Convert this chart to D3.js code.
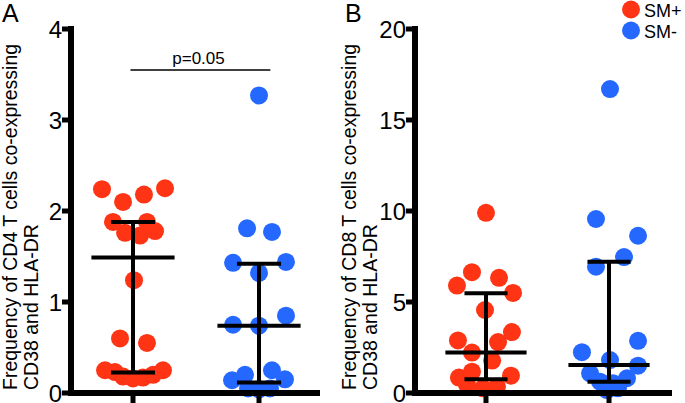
<!DOCTYPE html>
<html>
<head>
<meta charset="utf-8">
<script src="https://cdn.jsdelivr.net/npm/d3@7"></script>
<style>
  html, body { margin: 0; padding: 0; background: #fff; }
  svg { display: block; font-family: "Liberation Sans", Arial, Helvetica, sans-serif; }
  .bar { stroke: #000; stroke-width: 4px; fill: none; }
</style>
</head>
<body>
<svg id="chart" width="685" height="403"></svg>
<script>
// ---------------- DATA ----------------
const groups = ["SM+", "SM-"];
const colors = ["#ff3414", "#2468ff"];

// Panel A: CD4 (values; jitter = horizontal offset in category units)
const cd4SMpos = [2.24, 2.10, 2.18, 2.25, 1.88, 1.76, 1.73, 1.88, 1.78, 1.24, 0.60, 0.55,
                  0.25, 0.23, 0.18, 0.16, 0.17, 0.20, 0.25];
const cd4SMposJitter = [-0.246, -0.079, 0.087, 0.254, -0.159, -0.063, 0.056, 0.111, 0.175, 0.008, -0.103, 0.111,
                        -0.222, -0.143, -0.079, 0, 0.079, 0.159, 0.238];
const cd4SMneg = [3.27, 1.81, 1.77, 1.43, 1.44, 1.32, 0.75, 0.74, 0.85, 0.14, 0.20, 0.25, 0.15, 0.05, 0.04, 0.05];
const cd4SMnegJitter = [0, -0.095, 0.103, -0.206, 0.214, 0, -0.206, 0, 0.214, -0.214, -0.111, 0.103, 0.206, -0.087, 0, 0.087];
// summary: [center, low, high]
const cd4Summary = [[1.49, 0.225, 1.88], [0.74, 0.115, 1.42]];

// Panel B: CD8
const cd8SMpos = [9.9, 6.64, 6.33, 5.90, 5.50, 4.56, 3.35, 2.89, 2.80, 2.22, 1.78, 1.17, 0.85, 0.95, 0.44, 0.26, 0.35];
const cd8SMposJitter = [0, -0.114, 0.106, -0.236, 0.22, -0.008, 0.211, -0.228, 0.098, -0.114, 0.05, -0.114, -0.22, 0.203, -0.154, -0.024, 0.089];
const cd8SMneg = [16.7, 9.56, 8.64, 7.47, 6.94, 2.87, 2.24, 1.81, 1.50, 1.08, 0.62, 0.53, 0.81, 0.16, 0.26];
const cd8SMnegJitter = [0.008, -0.106, 0.236, 0.122, -0.106, 0.236, -0.22, 0.008, 0.236, -0.154, -0.073, 0.033, 0.146, -0.016, 0.073];
const cd8Summary = [[2.23, 0.75, 5.48], [1.54, 0.62, 7.21]];

const cd4Ticks = [0, 1, 2, 3, 4];
const cd8Ticks = [0, 5, 10, 15, 20];
const cd4Label = ["Frequency of CD4 T cells co-expressing", "CD38 and HLA-DR"];
const cd8Label = ["Frequency of CD8 T cells co-expressing", "CD38 and HLA-DR"];
const pValueText = "p=0.05";

// ---------------- DRAW ----------------
const svg = d3.select("#chart");
const FONT = '"Liberation Sans", Arial, Helvetica, sans-serif';
const AW = 6; // axis thickness

function panel(cfg) {
  const g = svg.append("g");
  const y = d3.scaleLinear().domain(cfg.yDomain).range([393, 29]);
  const x = d3.scaleLinear().domain(cfg.xDomain).range([cfg.axisX, cfg.rightX]);

  // dots
  cfg.series.forEach((s, i) => {
    g.append("g").selectAll("circle")
      .data(s.values.map((v, k) => ({ v, j: s.jitter[k] })))
      .join("circle")
      .attr("cx", d => x(i + 1 + d.j))
      .attr("cy", d => y(d.v))
      .attr("r", 9)
      .attr("fill", colors[i]);
  });

  // summary bars
  cfg.summary.forEach((s, i) => {
    const c = i + 1;
    const bg = g.append("g");
    bg.append("line").attr("class", "bar").attr("x1", x(c)).attr("x2", x(c)).attr("y1", y(s[1])).attr("y2", y(s[2]));
    bg.append("line").attr("class", "bar").attr("x1", x(c - 0.175)).attr("x2", x(c + 0.175)).attr("y1", y(s[1])).attr("y2", y(s[1]));
    bg.append("line").attr("class", "bar").attr("x1", x(c - 0.175)).attr("x2", x(c + 0.175)).attr("y1", y(s[2])).attr("y2", y(s[2]));
    bg.append("line").attr("class", "bar").attr("x1", x(c - 0.33)).attr("x2", x(c + 0.33)).attr("y1", y(s[0])).attr("y2", y(s[0]));
  });

  // y axis: labels via d3.axisLeft, lines drawn as filled rects
  const ya = g.append("g").attr("transform", `translate(${cfg.axisX},0)`)
    .call(d3.axisLeft(y).tickValues(cfg.ticks).tickFormat(d3.format("d")).tickSize(0).tickPadding(9));
  ya.select(".domain").remove();
  ya.selectAll(".tick line").remove();
  ya.selectAll(".tick text").style("font-size", "24px").style("font-family", FONT).style("fill", "#000").attr("dy", "0.36em");

  const ax = g.append("g").attr("fill", "#000");
  const top = y(cfg.yDomain[1]) - AW / 2, bot = y(0) + AW / 2;
  ax.append("rect").attr("x", cfg.axisX - AW / 2).attr("y", top).attr("width", AW).attr("height", bot - top);
  ax.selectAll("rect.yt").data(cfg.ticks).join("rect").attr("class", "yt")
    .attr("x", cfg.axisX - 9).attr("y", d => y(d) - 2.5).attr("width", 9).attr("height", 5);
  // x axis
  ax.append("rect").attr("x", cfg.axisX - AW / 2).attr("y", y(0) - AW / 2)
    .attr("width", cfg.rightX - cfg.axisX + AW / 2).attr("height", AW);
  ax.selectAll("rect.xt").data([1, 2]).join("rect").attr("class", "xt")
    .attr("x", d => x(d) - 2.5).attr("y", y(0)).attr("width", 5).attr("height", 12);

  // y label
  cfg.label.forEach((t, i) => {
    g.append("text")
      .attr("transform", `translate(${cfg.labelX[i]},390) rotate(-90)`)
      .style("font-size", "19.5px").style("font-family", FONT).style("fill", "#000")
      .text(t);
  });

  // panel letter
  g.append("text").attr("x", cfg.letterX).attr("y", 22).style("font-size", "25px")
    .style("font-family", FONT).style("fill", "#000").text(cfg.letter);

  return { x, y, g };
}

const A = panel({
  yDomain: [0, 4], xDomain: [0.508, 2.484], axisX: 71, rightX: 320,
  series: [{ values: cd4SMpos, jitter: cd4SMposJitter }, { values: cd4SMneg, jitter: cd4SMnegJitter }],
  summary: cd4Summary, ticks: cd4Ticks, label: cd4Label, labelX: [17, 38], letter: "A", letterX: 2
});

const B = panel({
  yDomain: [0, 20], xDomain: [0.423, 2.512], axisX: 415, rightX: 672,
  series: [{ values: cd8SMpos, jitter: cd8SMposJitter }, { values: cd8SMneg, jitter: cd8SMnegJitter }],
  summary: cd8Summary, ticks: cd8Ticks, label: cd8Label, labelX: [356, 377], letter: "B", letterX: 345
});

// significance bracket on A
A.g.append("line").attr("x1", A.x(1 - 0.02)).attr("x2", A.x(2 + 0.09)).attr("y1", 70).attr("y2", 70)
  .style("stroke", "#000").style("stroke-width", "1.5px");
A.g.append("text").attr("x", A.x(1.52)).attr("y", 64).attr("text-anchor", "middle")
  .style("font-size", "17px").style("font-family", FONT).style("fill", "#000").text(pValueText);

// legend
const leg = svg.append("g");
groups.forEach((name, i) => {
  leg.append("circle").attr("cx", 631).attr("cy", 9.5 + i * 21).attr("r", 9).attr("fill", colors[i]);
  leg.append("text").attr("x", 644).attr("y", 16.5 + i * 21).style("font-size", "18px")
    .style("font-family", FONT).style("fill", "#000").text(name);
});
</script>
</body>
</html>
